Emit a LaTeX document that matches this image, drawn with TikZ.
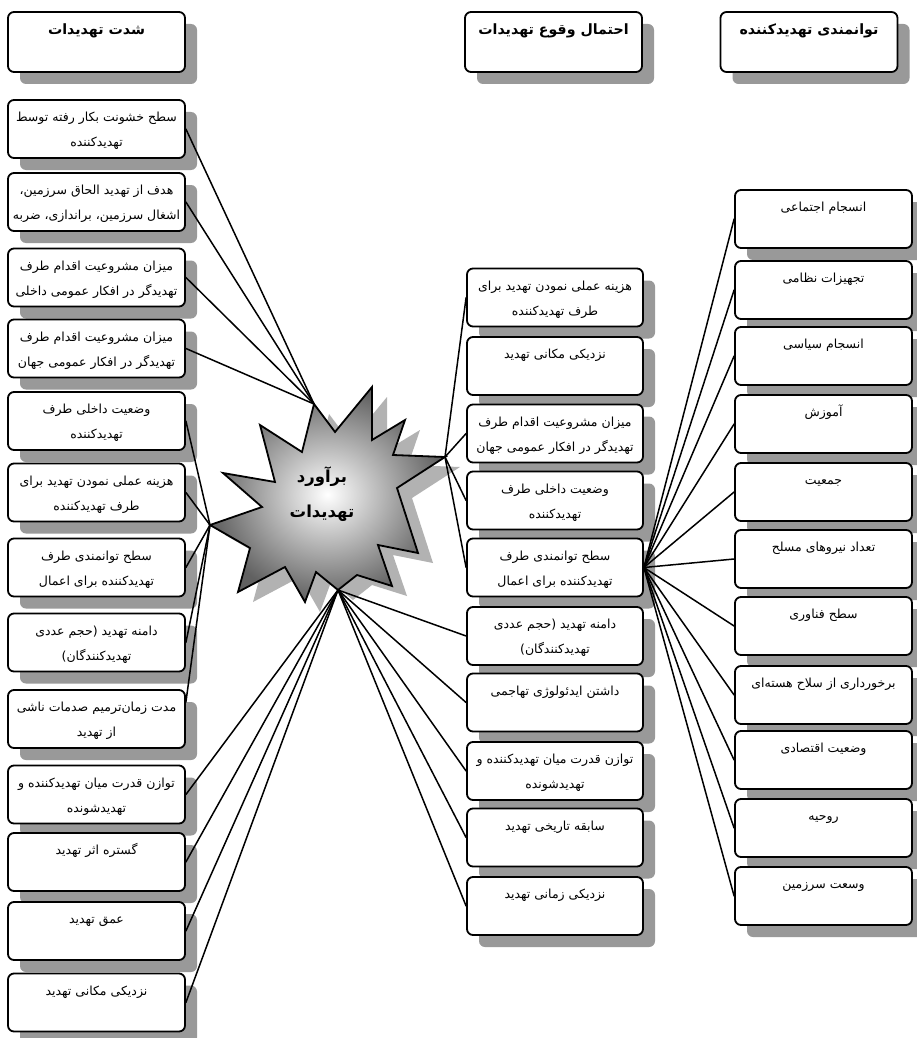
\documentclass[tikz,border=0pt]{standalone}
\usepackage{fontspec}
\usetikzlibrary{shadows,calc}
\TeXXeTstate=1
\newfontfamily\arabicfont[Script=Arabic]{DejaVu Sans}
\newcommand\starpath{(445,457) -- (393,455) -- (405,420) -- (372,440) -- (372,387) -- (335,432) -- (314,404) -- (302,452) -- (260,425) -- (275,482) -- (223,473) -- (262,507) -- (210,525) -- (250,548) -- (238,592) -- (285,567) -- (305,602) -- (316,572) -- (338,590) -- (357,575) -- (392,586) -- (378,545) -- (418,553) -- (397,488) -- cycle}
\tikzset{
  box/.style={draw, line width=1.8pt, rounded corners=6pt, fill=white,
    minimum width=177pt, minimum height=58pt, inner sep=0pt, align=center,
    font=\arabicfont\fontsize{12.5}{25}\selectfont,
    drop shadow={shadow xshift=12pt, shadow yshift=-12pt, fill=gray!80, opacity=1}},
  ttl/.style={box, minimum height=60pt, font=\arabicfont\bfseries\fontsize{14.2}{25}\selectfont},
  link/.style={line width=1.5pt, line cap=round}
}
\begin{document}
\begin{tikzpicture}[x=1pt, y=-1pt]
\fill[white] (0,0) rectangle (917,1038);
\useasboundingbox (0,0) rectangle (917,1038);

% titles
\node[ttl] (t1) at (96.5,42) {\strut\beginR شدت تهدیدات\endR\\\strut};
\node[ttl] (t2) at (553.5,42) {\strut\beginR احتمال وقوع تهدیدات\endR\\\strut};
\node[ttl] (t3) at (809,42) {\strut\beginR توانمندی تهدیدکننده\endR\\\strut};

% left column
\node[box] (l1) at (96.5,129) {\strut\beginR سطح خشونت بکار رفته توسط\endR\\\strut\beginR تهدیدکننده\endR};
\node[box] (l2) at (96.5,202) {\strut\beginR هدف از تهدید الحاق سرزمین،\endR\\\strut\beginR اشغال سرزمین، براندازی، ضربه\endR};
\node[box] (l3) at (96.5,277.5) {\strut\beginR میزان مشروعیت اقدام طرف\endR\\\strut\beginR تهدیدگر در افکار عمومی داخلی\endR};
\node[box] (l4) at (96.5,348.5) {\strut\beginR میزان مشروعیت اقدام طرف\endR\\\strut\beginR تهدیدگر در افکار عمومی جهان\endR};
\node[box] (l5) at (96.5,421) {\strut\beginR وضعیت داخلی طرف\endR\\\strut\beginR تهدیدکننده\endR};
\node[box] (l6) at (96.5,492.5) {\strut\beginR هزینه عملی نمودن تهدید برای\endR\\\strut\beginR طرف تهدیدکننده\endR};
\node[box] (l7) at (96.5,567.5) {\strut\beginR سطح توانمندی طرف\endR\\\strut\beginR تهدیدکننده برای اعمال\endR};
\node[box] (l8) at (96.5,642.5) {\strut\beginR دامنه تهدید (حجم عددی\endR\\\strut\beginR تهدیدکنندگان)\endR};
\node[box] (l9) at (96.5,719) {\strut\beginR مدت زمان‌ترمیم صدمات ناشی\endR\\\strut\beginR از تهدید\endR};
\node[box] (l10) at (96.5,794.5) {\strut\beginR توازن قدرت میان تهدیدکننده و\endR\\\strut\beginR تهدیدشونده\endR};
\node[box] (l11) at (96.5,862) {\strut\beginR گستره اثر تهدید\endR\\\strut};
\node[box] (l12) at (96.5,931) {\strut\beginR عمق تهدید\endR\\\strut};
\node[box] (l13) at (96.5,1002.5) {\strut\beginR نزدیکی مکانی تهدید\endR\\\strut};

% middle column
\node[box, minimum width=176pt] (m1) at (555,297.5) {\strut\beginR هزینه عملی نمودن تهدید برای\endR\\\strut\beginR طرف تهدیدکننده\endR};
\node[box, minimum width=176pt] (m2) at (555,366) {\strut\beginR نزدیکی مکانی تهدید\endR\\\strut};
\node[box, minimum width=176pt] (m3) at (555,433.5) {\strut\beginR میزان مشروعیت اقدام طرف\endR\\\strut\beginR تهدیدگر در افکار عمومی جهان\endR};
\node[box, minimum width=176pt] (m4) at (555,500.5) {\strut\beginR وضعیت داخلی طرف\endR\\\strut\beginR تهدیدکننده\endR};
\node[box, minimum width=176pt] (m5) at (555,567.5) {\strut\beginR سطح توانمندی طرف\endR\\\strut\beginR تهدیدکننده برای اعمال\endR};
\node[box, minimum width=176pt] (m6) at (555,636) {\strut\beginR دامنه تهدید (حجم عددی\endR\\\strut\beginR تهدیدکنندگان)\endR};
\node[box, minimum width=176pt] (m7) at (555,702.5) {\strut\beginR داشتن ایدئولوژی تهاجمی\endR\\\strut};
\node[box, minimum width=176pt] (m8) at (555,771) {\strut\beginR توازن قدرت میان تهدیدکننده و\endR\\\strut\beginR تهدیدشونده\endR};
\node[box, minimum width=176pt] (m9) at (555,837.5) {\strut\beginR سابقه تاریخی تهدید\endR\\\strut};
\node[box, minimum width=176pt] (m10) at (555,906) {\strut\beginR نزدیکی زمانی تهدید\endR\\\strut};

% right column
\node[box] (r1) at (823.5,219) {\strut\beginR انسجام اجتماعی\endR\\\strut};
\node[box] (r2) at (823.5,290) {\strut\beginR تجهیزات نظامی\endR\\\strut};
\node[box] (r3) at (823.5,356) {\strut\beginR انسجام سیاسی\endR\\\strut};
\node[box] (r4) at (823.5,424) {\strut\beginR آموزش\endR\\\strut};
\node[box] (r5) at (823.5,492) {\strut\beginR جمعیت\endR\\\strut};
\node[box] (r6) at (823.5,559) {\strut\beginR تعداد نیروهای مسلح\endR\\\strut};
\node[box] (r7) at (823.5,626) {\strut\beginR سطح فناوری\endR\\\strut};
\node[box] (r8) at (823.5,695) {\strut\beginR برخورداری از سلاح هسته‌ای\endR\\\strut};
\node[box] (r9) at (823.5,760) {\strut\beginR وضعیت اقتصادی\endR\\\strut};
\node[box] (r10) at (823.5,828) {\strut\beginR روحیه\endR\\\strut};
\node[box] (r11) at (823.5,896) {\strut\beginR وسعت سرزمین\endR\\\strut};

% star
\fill[gray!60, shift={(15,10)}] \starpath;
\shadedraw[line width=1.8pt, line join=miter, inner color=white, outer color=black!62] \starpath;
\node[font=\arabicfont\bfseries\fontsize{16.5}{35}\selectfont, align=center] (star) at (322,494) {\beginR برآورد\endR\\\beginR تهدیدات\endR};
\coordinate (hUL) at (314,404);
\coordinate (hL) at (210,525);
\coordinate (hR) at (445,457);
\coordinate (hB) at (338,590);

% connectors
\foreach \n in {l1,l2,l3,l4} \draw[link] (\n.east) -- (hUL);
\foreach \n in {l5,l6,l7,l8} \draw[link] (\n.east) -- (hL);
\draw[link] ($(l9.north east)+(0,13)$) -- (hL);
\foreach \n in {l10,l11,l12,l13} \draw[link] (\n.east) -- (hB);
\foreach \n in {m1,m3,m4,m5} \draw[link] (\n.west) -- (hR);
\foreach \n in {m6,m7,m8,m9,m10} \draw[link] (\n.west) -- (hB);
\foreach \n in {r1,r2,r3,r4,r5,r6,r7,r8,r9,r10,r11} \draw[link] (m5.east) -- (\n.west);
\end{tikzpicture}
\end{document}
